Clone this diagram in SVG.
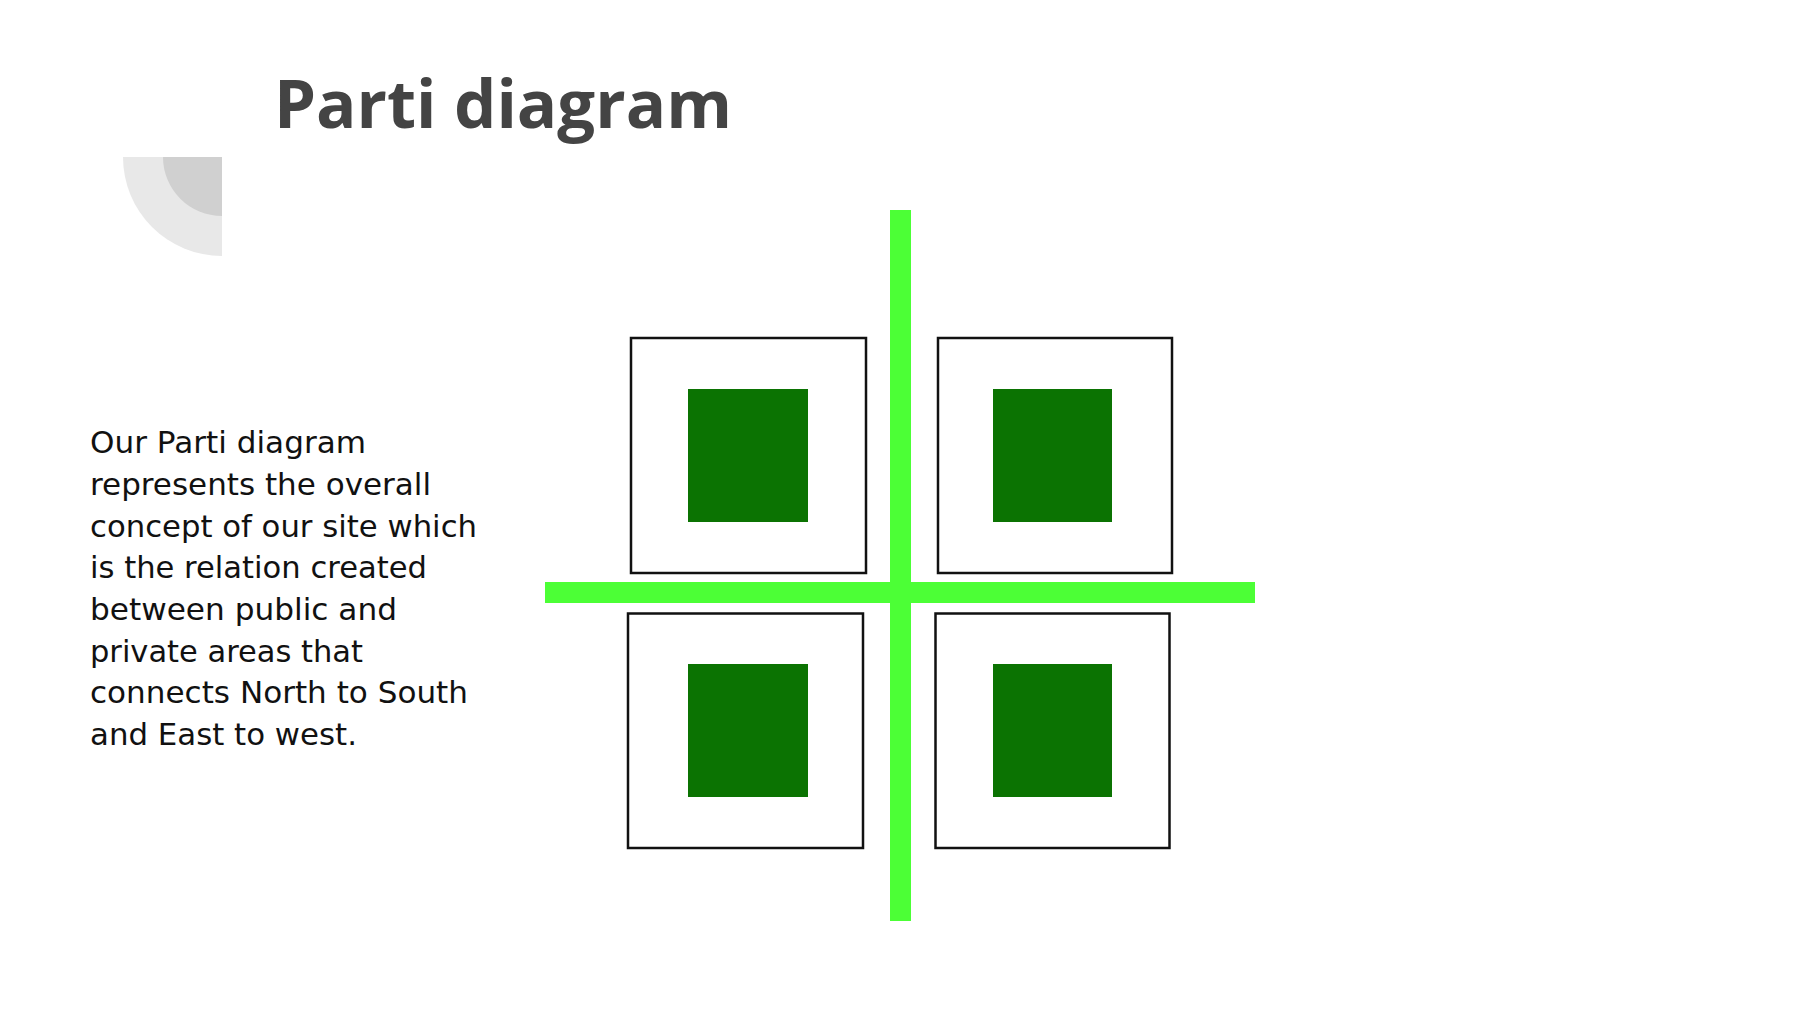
<svg xmlns="http://www.w3.org/2000/svg" width="1800" height="1013" viewBox="0 0 1800 1013">
  <style>
    .title { font-family: "Open Sans", "Liberation Sans", sans-serif; font-weight: 700; font-size: 66px; fill: #444444; }
    .body { font-family: "DejaVu Sans", "Liberation Sans", sans-serif; font-size: 30px; fill: #111111; }
    .plot { fill: #ffffff; stroke: #111111; stroke-width: 2.5; }
    .core { fill: #0b7302; }
    .path { fill: #4cff36; }
  </style>
  <rect x="0" y="0" width="1800" height="1013" fill="#ffffff"/>

  <g id="decor">
    <path d="M 222 157 L 123 157 A 99 99 0 0 0 222 256 Z" fill="#e8e8e8"/>
    <path d="M 222 157 L 163 157 A 59 59 0 0 0 222 216 Z" fill="#d0d0d0"/>
  </g>

  <g id="title">
    <text class="title" x="274" y="128" textLength="458" lengthAdjust="spacingAndGlyphs">Parti diagram</text>
  </g>

  <g id="description">
    <text class="body" x="90" y="453" textLength="276" lengthAdjust="spacingAndGlyphs">Our Parti diagram</text>
    <text class="body" x="90" y="495" textLength="341" lengthAdjust="spacingAndGlyphs">represents the overall</text>
    <text class="body" x="90" y="537" textLength="387" lengthAdjust="spacingAndGlyphs">concept of our site which</text>
    <text class="body" x="90" y="578" textLength="337" lengthAdjust="spacingAndGlyphs">is the relation created</text>
    <text class="body" x="90" y="620" textLength="307" lengthAdjust="spacingAndGlyphs">between public and</text>
    <text class="body" x="90" y="662" textLength="273" lengthAdjust="spacingAndGlyphs">private areas that</text>
    <text class="body" x="90" y="703" textLength="378" lengthAdjust="spacingAndGlyphs">connects North to South</text>
    <text class="body" x="90" y="745" textLength="267" lengthAdjust="spacingAndGlyphs">and East to west.</text>
  </g>

  <g id="connectors">
    <rect class="path" x="890" y="210" width="21" height="711"/>
    <rect class="path" x="545" y="582" width="710" height="21"/>
  </g>

  <g id="block-nw">
    <rect class="plot" x="631" y="338" width="235" height="235"/>
    <rect class="core" x="688" y="389" width="120" height="133"/>
  </g>
  <g id="block-ne">
    <rect class="plot" x="938" y="338" width="234" height="235"/>
    <rect class="core" x="993" y="389" width="119" height="133"/>
  </g>
  <g id="block-sw">
    <rect class="plot" x="628" y="613.5" width="235" height="234.5"/>
    <rect class="core" x="688" y="664" width="120" height="133"/>
  </g>
  <g id="block-se">
    <rect class="plot" x="935.5" y="613.5" width="234" height="234.5"/>
    <rect class="core" x="993" y="664" width="119" height="133"/>
  </g>
</svg>
